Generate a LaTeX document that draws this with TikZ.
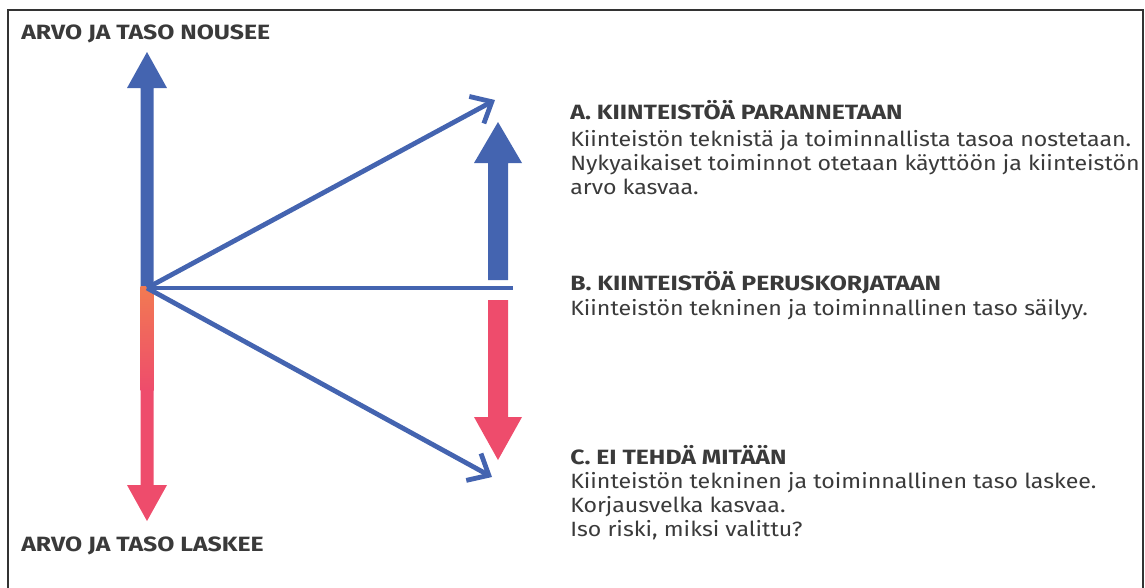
\documentclass[tikz,border=0pt]{standalone}
\usepackage{fontspec}
\setmainfont{Fira Sans}[FakeStretch=1.12]
\newfontfamily\headfont{Fira Sans}[FakeStretch=1.20]
\usetikzlibrary{arrows.meta}
\definecolor{bl}{RGB}{68,100,176}
\definecolor{rd}{RGB}{238,76,108}
\definecolor{org}{RGB}{242,122,82}
\definecolor{tx}{RGB}{58,58,58}
\tikzset{
  head/.style={anchor=base west,inner sep=0pt,text=tx,font=\headfont\fontsize{15.5}{18}\selectfont\bfseries},
  body/.style={anchor=base west,inner sep=0pt,text=tx,font=\fontsize{15.5}{18}\selectfont},
  thin/.style={draw=bl,line width=3.6pt},
  thinarrow/.style={thin,-{Straight Barb[length=13pt,width=23pt]}},
}
\begin{document}
\begin{tikzpicture}[x=0.75pt,y=-0.75pt]
\useasboundingbox (0,0) rectangle (1145,587);
% frame
\draw[line width=1.2pt,black!80] (8,590) -- (8,10) -- (1143,10) -- (1143,590);
% left vertical thick arrow
\fill[bl] (140.5,287) -- (140.5,88) -- (127,88) -- (147,52) -- (167,88) -- (153.5,88) -- (153.5,287) -- cycle;
\shade[top color=org,bottom color=rd] (140.5,286.5) rectangle (153.5,390);
\fill[rd] (140.5,389.5) -- (140.5,485) -- (127,485) -- (147,521) -- (167,485) -- (153.5,485) -- (153.5,389.5) -- cycle;
% right thick arrows
\fill[bl] (488,280) -- (488,163) -- (474,163) -- (498,122) -- (522,163) -- (508,163) -- (508,280) -- cycle;
\fill[rd] (488,300) -- (488,417) -- (474,417) -- (498,460) -- (522,417) -- (508,417) -- (508,300) -- cycle;
% fan
\coordinate (O) at (147,288);
\coordinate (tA) at (495,100);
\coordinate (tB) at (513,288);
\coordinate (tC) at (492,477);
\draw[thinarrow] (O) -- (tA);
\draw[thin] (O) -- (tB);
\draw[thinarrow] (O) -- (tC);
% texts
\node[head] (up) at (21,39) {ARVO JA TASO NOUSEE};
\node[head] (down) at (21,551) {ARVO JA TASO LASKEE};
\node[head] (ah) at (570,119) {A. KIINTEISTÖÄ PARANNETAAN};
\node[body] (a1) at (570,146) {Kiinteistön teknistä ja toiminnallista tasoa nostetaan.};
\node[body] (a2) at (570,170) {Nykyaikaiset toiminnot otetaan käyttöön ja kiinteistön};
\node[body] (a3) at (570,194) {arvo kasvaa.};
\node[head] (bh) at (570,290) {B. KIINTEISTÖÄ PERUSKORJATAAN};
\node[body] (b1) at (570,315) {Kiinteistön tekninen ja toiminnallinen taso säilyy.};
\node[head] (ch) at (570,464) {C. EI TEHDÄ MITÄÄN};
\node[body] (c1) at (570,488) {Kiinteistön tekninen ja toiminnallinen taso laskee.};
\node[body] (c2) at (570,512) {Korjausvelka kasvaa.};
\node[body] (c3) at (570,536) {Iso riski, miksi valittu?};
\end{tikzpicture}
\end{document}
